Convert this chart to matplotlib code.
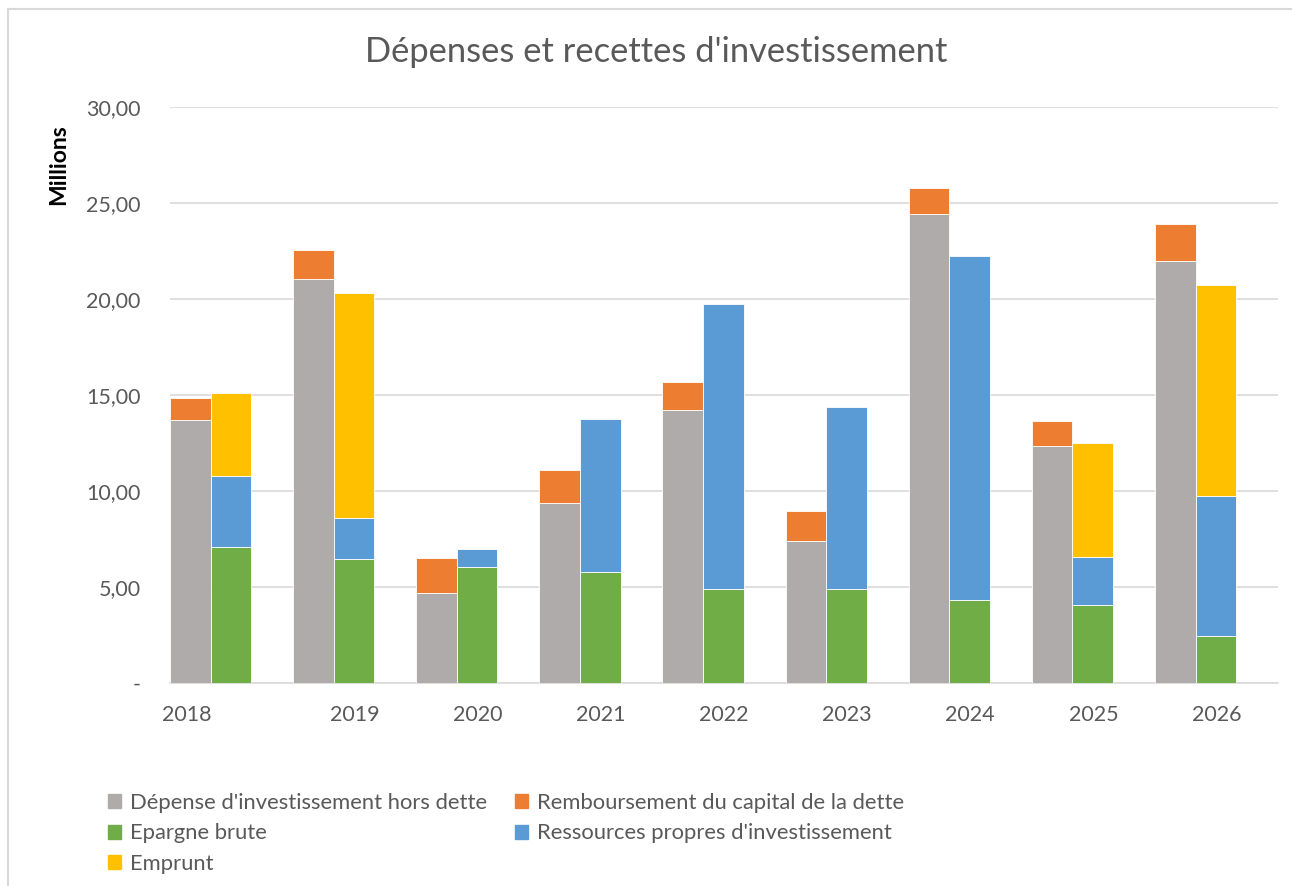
import numpy as np
import matplotlib
matplotlib.use('Agg')
import matplotlib.pyplot as plt
from matplotlib.lines import Line2D
from matplotlib.patches import Patch

plt.rcParams['font.family'] = ['Lato', 'DejaVu Sans']

years = ['2018', '2019', '2020', '2021', '2022', '2023', '2024', '2025', '2026']
# left bar: spending
depense = [13.70, 21.04, 4.69, 9.37, 14.22, 7.40, 24.43, 12.34, 21.98]
remboursement = [1.14, 1.51, 1.82, 1.72, 1.46, 1.56, 1.35, 1.31, 1.92]
# right bar: resources
epargne = [7.08, 6.46, 6.04, 5.78, 4.90, 4.90, 4.32, 4.06, 2.45]
ressources = [3.70, 2.13, 0.94, 7.97, 14.84, 9.47, 17.92, 2.50, 7.29]
emprunt = [4.32, 11.72, 0.0, 0.0, 0.0, 0.0, 0.0, 5.94, 10.99]

labels = ["Dépense d'investissement hors dette",
          "Remboursement du capital de la dette",
          "Epargne brute",
          "Ressources propres d'investissement",
          "Emprunt"]
colors = ['#AFABAB', '#ED7D31', '#70AD47', '#5B9BD5', '#FFC000']

W, H = 1292, 886
fig = plt.figure(figsize=(W / 100, H / 100), dpi=100)
ax = fig.add_axes([170 / W, 1 - 683 / H, (1278 - 170) / W, (683 - 107) / H])

x = np.arange(len(years))
bw = 0.33
left = x + bw / 2
right = x + bw * 1.5
ek = dict(width=bw, edgecolor='white', linewidth=0.6, zorder=3)

ax.bar(left, depense, color=colors[0], **ek)
ax.bar(left, remboursement, bottom=depense, color=colors[1], **ek)
ax.bar(right, epargne, color=colors[2], **ek)
ax.bar(right, ressources, bottom=epargne, color=colors[3], **ek)
bot = np.array(epargne) + np.array(ressources)
emp = np.array(emprunt)
ax.bar(right[emp > 0], emp[emp > 0], bottom=bot[emp > 0], color=colors[4], **ek)

ax.set_xlim(0, len(years))
ax.set_ylim(0, 30)
ax.set_yticks(np.arange(0, 31, 5))
ax.set_yticklabels(['-'] + ['%d,00' % v for v in range(5, 31, 5)])
# the first year label sits off-centre in the original
ticks = x + 0.5
ticks[0] = 0.14
ax.set_xticks(ticks)
ax.set_xticklabels(years)

ax.tick_params(axis='both', length=0, labelsize=15.5, colors='#595959')
ax.tick_params(axis='x', pad=16)
ax.tick_params(axis='y', pad=21)
ax.grid(axis='y', color='#D9D9D9', linewidth=1.2, zorder=0)
for s in ['top', 'right', 'left']:
    ax.spines[s].set_visible(False)
ax.spines['bottom'].set_color('#D9D9D9')
ax.spines['bottom'].set_linewidth(1.2)

ax.set_ylabel('Millions', fontsize=16.5, fontweight='bold', color='black')
ax.yaxis.set_label_coords(-0.091, 0.9)

fig.text(656 / W, 1 - 52 / H, "Dépenses et recettes d'investissement",
         ha='center', va='center', fontsize=24.8, color='#595959')

handles = [Patch(color=c) for c in colors]
order = [0, 2, 4, 1, 3]
leg = fig.legend([handles[i] for i in order], [labels[i] for i in order],
                 ncol=2, loc='upper left', bbox_to_anchor=(88 / W, 1 - 773 / H),
                 frameon=False, fontsize=15.8, handlelength=0.6, handleheight=0.6,
                 handletextpad=0.4, columnspacing=1.27, labelspacing=0.48)
for t in leg.get_texts():
    t.set_color('#595959')

# chart frame (top and left edges)
fig.add_artist(Line2D([8 / W, 1], [1 - 9 / H, 1 - 9 / H], color='#D9D9D9', lw=1.5))
fig.add_artist(Line2D([8 / W, 8 / W], [0, 1 - 9 / H], color='#D9D9D9', lw=1.5))

fig.savefig('out.png', dpi=100)
